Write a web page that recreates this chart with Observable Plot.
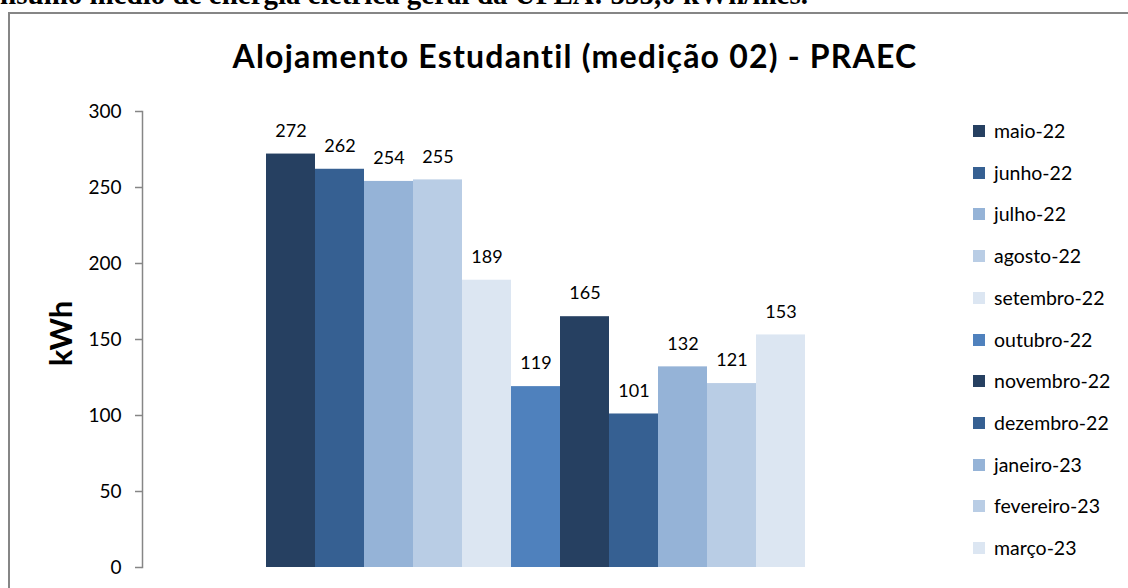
<!DOCTYPE html>
<html>
<head>
<meta charset="utf-8">
<script src="https://cdn.jsdelivr.net/npm/d3@7"></script>
<script src="https://cdn.jsdelivr.net/npm/@observablehq/plot@0.6"></script>
<style>
  html, body { margin: 0; padding: 0; background: #fff; }
  #wrap { position: relative; width: 1128px; height: 588px; overflow: hidden; background: #fff; }
  #toptext { position: absolute; right: 320px; top: -20px; white-space: nowrap;
    font-family: "Liberation Serif", serif; font-weight: bold; font-size: 29px; line-height: 1; color: #000; }
  #box { position: absolute; left: 8px; top: 12px; width: 1140px; height: 600px; border: 2px solid #868686; box-sizing: border-box; }
  #title { position: absolute; left: 0; width: 1150px; top: 36px; text-align: center; letter-spacing: 1.2px;
    font-family: Lato, sans-serif; font-weight: bold; font-size: 32px; line-height: 40px; color: #000; }
  #chart { position: absolute; left: 0; top: 0; }
  #legend { position: absolute; left: 973px; top: 0; font-family: Lato, sans-serif; font-size: 19.5px; color: #000; }
  .li { position: absolute; left: 0; white-space: nowrap; height: 24px; line-height: 24px; }
  .sw { position: absolute; left: 0; top: 6px; width: 12px; height: 12px; }
  .lt { position: absolute; left: 21px; top: 0; }
</style>
</head>
<body>
<div id="wrap">
  <div id="toptext">Consumo médio de energia elétrica geral da UFLA: 555,0 kWh/mês.</div>
  <div id="box"></div>
  <div id="title">Alojamento Estudantil (medição 02) - PRAEC</div>
  <div id="chart"></div>
  <div id="legend"></div>
</div>
<script>
const months = ["maio-22","junho-22","julho-22","agosto-22","setembro-22","outubro-22","novembro-22","dezembro-22","janeiro-23","fevereiro-23","março-23"];
const values = [272, 262, 254, 255, 189, 119, 165, 101, 132, 121, 153];
const colors = ["#264061","#366092","#95b3d7","#b9cde5","#dce6f2","#4f81bd","#264061","#366092","#95b3d7","#b9cde5","#dce6f2"];
const yTicks = [0, 50, 100, 150, 200, 250, 300];

const data = months.map((m, i) => ({month: m, value: values[i]}));
const font = "Lato, sans-serif";

const chart = Plot.plot({
  width: 1128,
  height: 588,
  marginLeft: 142,
  marginRight: 198,
  marginTop: 111,
  marginBottom: 21,
  style: {fontFamily: font, fontSize: "17px", color: "#000", background: "transparent"},
  x: {domain: months, range: [263, 808], padding: 0, axis: null},
  y: {domain: [0, 300]},
  color: {domain: months, range: colors},
  marks: [
    Plot.barY(data, {x: "month", y: "value", fill: "month"}),
    Plot.text(data, {x: "month", y: "value", text: d => String(d.value), dy: -23, fontSize: 18, fill: "#000"}),
    Plot.frame({anchor: "left", stroke: "#868686", strokeWidth: 1.5}),
    Plot.axisY({ticks: yTicks, tickSize: 7, tickPadding: 14, stroke: "#868686", strokeWidth: 1.5, fill: "#000", fontSize: 19, label: null}),
    Plot.text(["kWh"], {frameAnchor: "left", textAnchor: "middle", rotate: -90, dx: -80, dy: -6, fontSize: 31, fontWeight: "bold", fill: "#000"})
  ]
});
document.getElementById("chart").appendChild(chart);

const legend = document.getElementById("legend");
months.forEach((m, i) => {
  const item = document.createElement("div");
  item.className = "li";
  item.style.top = (131 + i * 41.7 - 12) + "px";
  const sw = document.createElement("div");
  sw.className = "sw";
  sw.style.background = colors[i];
  const t = document.createElement("div");
  t.className = "lt";
  t.textContent = m;
  item.appendChild(sw);
  item.appendChild(t);
  legend.appendChild(item);
});
</script>
</body>
</html>
